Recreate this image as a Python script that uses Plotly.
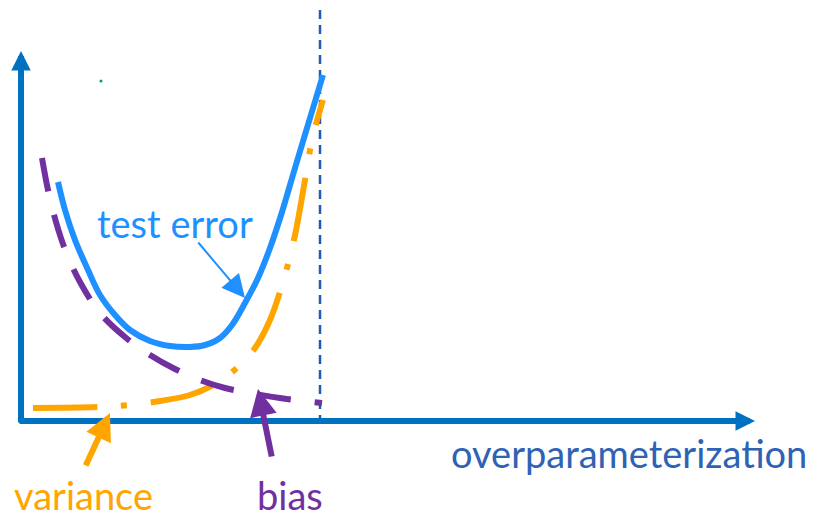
import plotly.graph_objects as go

# ---- data (x: model size, y: error level) ----
test_x = [58, 65, 75, 88, 100, 115, 130, 150, 170, 190, 205, 220, 232, 245, 258, 270, 282, 295, 310, 323]
test_y = [337, 309, 279, 249, 224, 204, 189, 178, 173, 172, 174, 181, 194, 216, 241, 271, 307, 351, 401, 444]

bias_x = [42, 48, 56, 66, 80, 100, 125, 150, 175, 200, 225, 250, 280, 322]
bias_y = [361, 329, 297, 267, 237, 206, 182, 164, 150, 139, 131, 126, 121, 116]

var_x = [33, 100, 130, 160, 190, 215, 238, 255, 270, 285, 295, 305, 312, 323]
var_y = [111, 112, 114, 118, 124, 135, 152, 171, 199, 244, 284, 339, 379, 419]

threshold_x = 320
axis_origin = (21, 98)
axis_x_end = 755
axis_y_end = 468

labels = {
    "test error": (175, 296),
    "variance": (83, 24),
    "bias": (290, 24),
    "overparameterization": (629, 66),
}

BLUE = "#1E90FF"
PURPLE = "#7030A0"
ORANGE = "#FFA500"
AXIS = "#0070C0"
FONT = "Lato, 'Noto Sans', sans-serif"

fig = go.Figure()

fig.add_trace(go.Scatter(x=[threshold_x, threshold_x], y=[95, 509], mode="lines",
                         line=dict(color="#1F5BB5", width=2.5, dash="9px,6px"),
                         hoverinfo="skip"))
fig.add_trace(go.Scatter(x=var_x, y=var_y, mode="lines", line_shape="spline",
                         line=dict(color=ORANGE, width=6, dash="64px,24px,6px,24px"),
                         hoverinfo="skip"))
fig.add_trace(go.Scatter(x=bias_x, y=bias_y, mode="lines", line_shape="spline",
                         line=dict(color=PURPLE, width=6, dash="34px,24px"),
                         hoverinfo="skip"))
fig.add_trace(go.Scatter(x=test_x, y=test_y, mode="lines", line_shape="spline",
                         line=dict(color=BLUE, width=6), hoverinfo="skip"))
fig.add_trace(go.Scatter(x=[101], y=[438], mode="markers",
                         marker=dict(color="#00A050", size=3), hoverinfo="skip"))

ox, oy = axis_origin
# axes arrows
fig.add_annotation(x=ox, y=axis_y_end, ax=ox, ay=oy - 3, xref="x", yref="y", axref="x", ayref="y",
                   text="", showarrow=True, arrowhead=2, arrowsize=0.65, arrowwidth=6, arrowcolor=AXIS, standoff=0)
fig.add_annotation(x=axis_x_end, y=oy, ax=ox - 3, ay=oy, xref="x", yref="y", axref="x", ayref="y",
                   text="", showarrow=True, arrowhead=2, arrowsize=0.65, arrowwidth=6, arrowcolor=AXIS, standoff=0)

# pointer arrows
fig.add_annotation(x=245, y=221, ax=197, ay=278, xref="x", yref="y", axref="x", ayref="y",
                   text="", showarrow=True, arrowhead=2, arrowsize=2.3, arrowwidth=2, arrowcolor=BLUE, standoff=0)
fig.add_annotation(x=110, y=106, ax=85, ay=52, xref="x", yref="y", axref="x", ayref="y",
                   text="", showarrow=True, arrowhead=2, arrowsize=0.9, arrowwidth=6, arrowcolor=ORANGE, standoff=0)
fig.add_annotation(x=258, y=130, ax=272, ay=61, xref="x", yref="y", axref="x", ayref="y",
                   text="", showarrow=True, arrowhead=2, arrowsize=0.9, arrowwidth=6, arrowcolor=PURPLE, standoff=0)

# labels
for txt, color in [("test error", BLUE), ("variance", ORANGE), ("bias", PURPLE), ("overparameterization", "#2E62B5")]:
    lx, ly = labels[txt]
    fig.add_annotation(x=lx, y=ly, xref="x", yref="y", text=txt, showarrow=False, borderpad=0,
                       font=dict(family=FONT, size=38, color=color))

fig.update_layout(
    width=815, height=519, margin=dict(l=0, r=0, t=0, b=0),
    paper_bgcolor="white", plot_bgcolor="white", showlegend=False,
    xaxis=dict(range=[0, 815], visible=False, fixedrange=True),
    yaxis=dict(range=[0, 519], visible=False, fixedrange=True),
)

fig.write_html("out.html", config={"displayModeBar": False},
               post_script="document.body.style.margin='0px';document.body.style.overflow='hidden';")
